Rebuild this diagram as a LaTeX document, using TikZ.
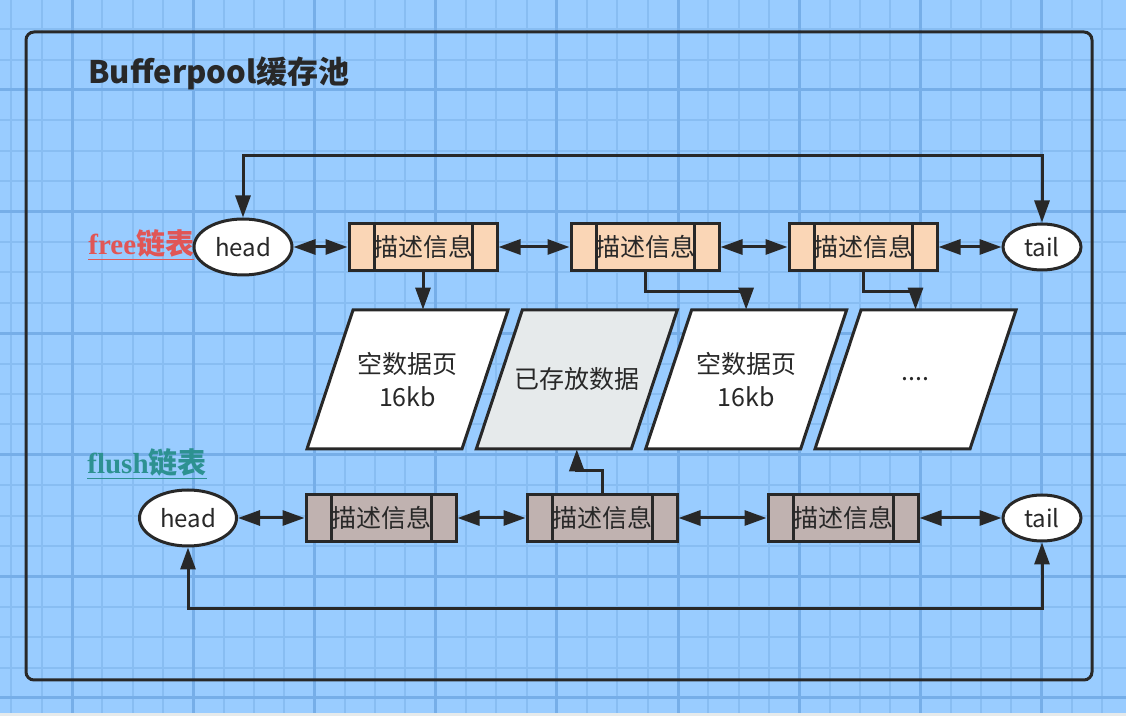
\documentclass[tikz,border=0pt]{standalone}
\usepackage{fontspec}
\setmainfont{Noto Sans CJK SC}
\newfontfamily\latinserif{Liberation Serif}
\usepackage{tikz}
\usetikzlibrary{arrows.meta,shapes.geometric}
\definecolor{canvas}{RGB}{153,204,255}
\definecolor{gridminor}{RGB}{136,189,242}
\definecolor{gridmajor}{RGB}{118,174,232}
\definecolor{ink}{RGB}{40,40,40}
\definecolor{freefill}{RGB}{250,214,182}
\definecolor{flushfill}{RGB}{192,178,176}
\definecolor{usedfill}{RGB}{230,234,235}
\definecolor{freelabel}{RGB}{224,86,86}
\definecolor{flushlabel}{RGB}{45,145,145}
\tikzset{>={Triangle[length=11pt,width=7.5pt]}}
\tikzset{
    listend/.style={ellipse, draw=ink, line width=1.5pt, fill=white, inner sep=0pt,
        font=\fontsize{12}{14}\selectfont, text=ink},
    descbox/.style={rectangle, draw=ink, line width=1.5pt, minimum width=74pt,
        minimum height=23.5pt, inner sep=0pt, font=\fontsize{12.5}{14}\selectfont, text=ink,
        path picture={
            \draw[ink, line width=1.5pt]
                ([xshift=12.5pt]path picture bounding box.north west) -- ([xshift=12.5pt]path picture bounding box.south west)
                ([xshift=-12.5pt]path picture bounding box.north east) -- ([xshift=-12.5pt]path picture bounding box.south east);
        }},
    pageline/.style={draw=ink, line width=1.5pt, line join=miter},
    pagetext/.style={rectangle, minimum width=54.5pt, minimum height=69.5pt, inner sep=0pt,
        align=center, font=\fontsize{12.5}{16.5}\selectfont, text=ink},
    listlabel/.style={anchor=west, inner sep=0pt, font=\bfseries\fontsize{14.5}{16}\selectfont},
    link/.style={ink, line width=1.5pt},
}

\begin{document}
\begin{tikzpicture}[x=0.5pt, y=-0.5pt]
    \pgfmathsetmacro{\pagew}{155}
    \pgfmathsetmacro{\pageh}{139}
    \pgfmathsetmacro{\pages}{46}
    \fill[canvas] (0,0) rectangle (1126,716);
    \useasboundingbox (0,0) rectangle (1126,716);
    \foreach \i in {-2,...,34}
        \draw[gridminor, line width=1pt] ({72+30.3*\i},0) -- ({72+30.3*\i},716);
    \foreach \j in {-2,...,20}
        \draw[gridminor, line width=1pt] (0,{90+30.4*\j}) -- (1126,{90+30.4*\j});
    \foreach \i in {0,...,8}
        \draw[gridmajor, line width=1.5pt] ({72+121.2*\i},0) -- ({72+121.2*\i},716);
    \foreach \j in {0,...,5}
        \draw[gridmajor, line width=1.5pt] (0,{90+121.6*\j}) -- (1126,{90+121.6*\j});
    \fill[usedfill] (0,713) rectangle (1126,716);

    \draw[ink, line width=1.5pt, rounded corners=4pt] (26,32) rectangle (1092,680);
    \node[anchor=west, inner sep=0pt, text=ink, font=\bfseries\fontsize{15.5}{18}\selectfont] (title) at (88,73) {Bufferpool缓存池};

    \node[listlabel, text=freelabel] (freelbl) at (88,245) {\underline{{\latinserif free}链表}};
    \node[listend, minimum width=49pt, minimum height=28pt] (freehead) at (243,247) {head};
    \node[descbox, fill=freefill] (freeA) at (423,247) {描述信息};
    \node[descbox, fill=freefill] (freeB) at (645,247) {描述信息};
    \node[descbox, fill=freefill] (freeC) at (863,247) {描述信息};
    \node[listend, minimum width=39pt, minimum height=23pt] (freetail) at (1042,247) {tail};

    \filldraw[pageline, fill=white] (353,310) -- ++(\pagew,0) -- ++(-\pages,\pageh) -- ++(-\pagew,0) -- cycle;
    \filldraw[pageline, fill=usedfill] (522.3,310) -- ++(\pagew,0) -- ++(-\pages,\pageh) -- ++(-\pagew,0) -- cycle;
    \filldraw[pageline, fill=white] (691.6,310) -- ++(\pagew,0) -- ++(-\pages,\pageh) -- ++(-\pagew,0) -- cycle;
    \filldraw[pageline, fill=white] (861,310) -- ++(\pagew,0) -- ++(-\pages,\pageh) -- ++(-\pagew,0) -- cycle;
    \node[pagetext] (pageA) at (407.5,379.5) {空数据页\\16kb};
    \node[pagetext] (pageB) at (576.8,379.5) {已存放数据};
    \node[pagetext] (pageC) at (746.1,379.5) {空数据页\\16kb};
    \node[pagetext] (pageD) at (915.5,379.5) {....};

    \node[listlabel, text=flushlabel] (flushlbl) at (87,464) {\underline{{\latinserif flush}链表}};
    \node[listend, minimum width=48.5pt, minimum height=28pt] (flushhead) at (188,518) {head};
    \node[descbox, fill=flushfill, minimum width=75pt] (flushA) at (381,518) {描述信息};
    \node[descbox, fill=flushfill, minimum width=75pt] (flushB) at (602,518) {描述信息};
    \node[descbox, fill=flushfill, minimum width=75pt] (flushC) at (843,518) {描述信息};
    \node[listend, minimum width=39pt, minimum height=23pt] (flushtail) at (1042,518) {tail};

    \draw[link, <->] (freehead) -- (freeA);
    \draw[link, <->] (freeA) -- (freeB);
    \draw[link, <->] (freeB) -- (freeC);
    \draw[link, <->] (freeC) -- (freetail);
    \draw[link, <->] (freehead.north) -- ++(0,-62) -| (freetail.north);

    \draw[link, ->] (freeA.south) -- (freeA.south |- pageA.north);
    \draw[link, ->] (freeB.south) -- ++(0,20) -| (pageC.north);
    \draw[link, ->] (freeC.south) -- ++(0,20) -| (pageD.north);

    \draw[link, <->] (flushhead) -- (flushA);
    \draw[link, <->] (flushA) -- (flushB);
    \draw[link, <->] (flushB) -- (flushC);
    \draw[link, <->] (flushC) -- (flushtail);
    \draw[link, <->] (flushhead.south) -- ++(0,61) -| (flushtail.south);

    \draw[link, ->] (flushB.north) -- ++(0,-22) -| (pageB.south);
\end{tikzpicture}
\end{document}
